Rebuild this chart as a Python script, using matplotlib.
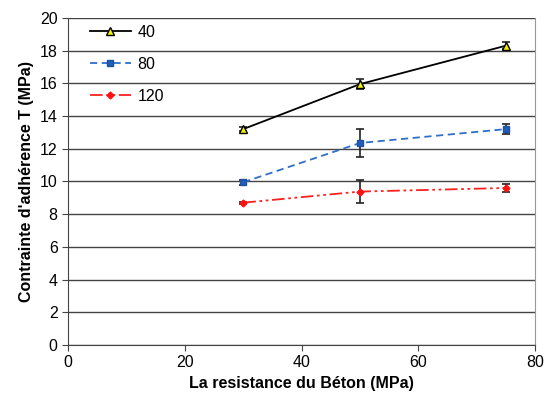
import matplotlib
matplotlib.use("Agg")
import matplotlib.pyplot as plt

plt.rcParams['font.family'] = ['Liberation Sans', 'DejaVu Sans']

# data
beton = [30, 50, 75]
series_labels = ['40', '80', '120']
t_40 = [13.2, 15.95, 18.3]
t_80 = [9.95, 12.35, 13.2]
t_120 = [8.7, 9.38, 9.6]
err_40 = [0.1, 0.3, 0.2]
err_80 = [0.15, 0.87, 0.3]
err_120 = [0.05, 0.7, 0.27]

x_ticks = [0, 20, 40, 60, 80]
y_ticks = [0, 2, 4, 6, 8, 10, 12, 14, 16, 18, 20]

fig = plt.figure(figsize=(5.45, 3.97), dpi=100)
ax = fig.add_axes([0.125, 0.131, 0.857, 0.824])

styles = [
    dict(color='black', ls='-', marker='^', mfc='#f0f000', mec='black', ms=6),
    dict(color='#2f6fc8', ls=(0, (4, 2.5)), marker='s', mfc='#1f5fb8', mec='#1f4f9f', ms=5),
    dict(color='#ff2020', ls=(0, (7, 2, 1.5, 2, 1.5, 2)), marker='D', mfc='#ff1010', mec='#ff1010', ms=3.5),
]

for vals, errs, lab, st in zip([t_40, t_80, t_120], [err_40, err_80, err_120], series_labels, styles):
    ax.errorbar(beton, vals, yerr=errs, fmt='none', ecolor='#222222', elinewidth=1.2,
                capsize=3, capthick=1.2, zorder=3)
    ax.plot(beton, vals, lw=1.3, label=lab, zorder=4, **st)

ax.set_xlim(0, 80)
ax.set_ylim(0, 20)
ax.set_xticks(x_ticks)
ax.set_yticks(y_ticks)
ax.yaxis.grid(True, color='#444444', lw=1)
ax.set_axisbelow(True)

ax.spines['top'].set_visible(False)
ax.spines['right'].set_color('#999999')
ax.spines['left'].set_color('#444444')
ax.spines['bottom'].set_color('#444444')
ax.tick_params(axis='both', labelsize=11.5, direction='out', color='#444444', length=4)

ax.set_xlabel('La resistance du Béton (MPa)', fontsize=11.5, fontweight='bold', labelpad=4)
ax.set_ylabel("Contrainte d'adhérence T (MPa)", fontsize=11.5, fontweight='bold', labelpad=4)

ax.legend(loc='upper left', frameon=False, fontsize=11.5, handlelength=2.6,
          handletextpad=0.4, bbox_to_anchor=(0.015, 1.022), labelspacing=1.05)

fig.savefig('out.png', dpi=100)
